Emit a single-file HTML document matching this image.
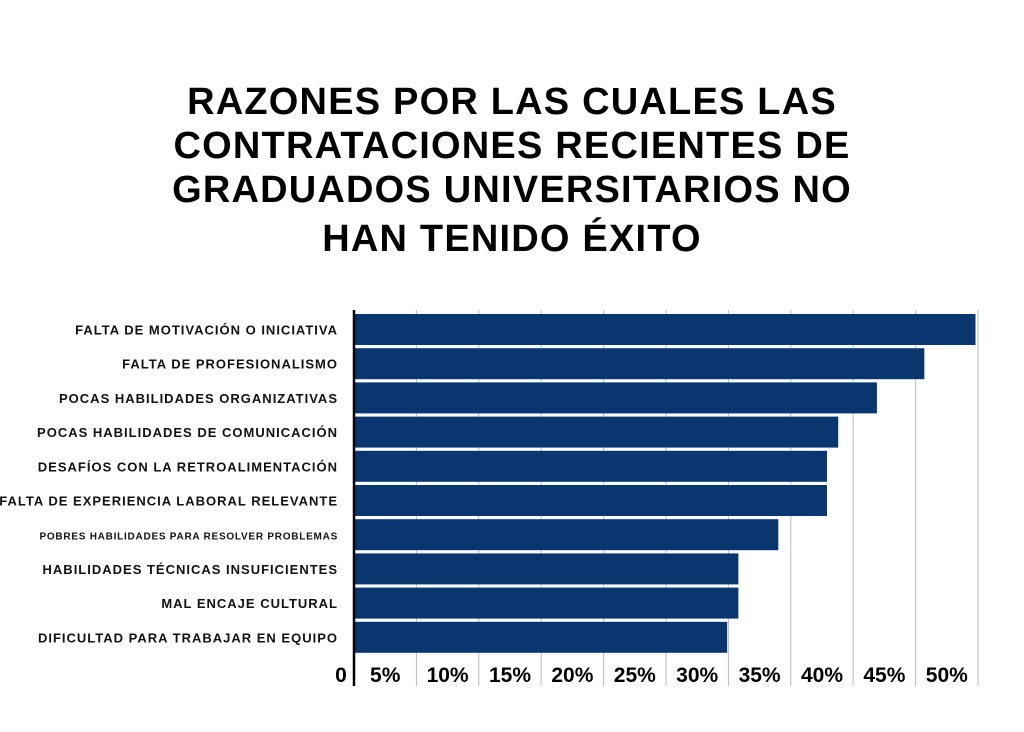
<!DOCTYPE html>
<html><head><meta charset="utf-8"><style>
body{margin:0;background:#fff;}
svg{display:block;font-family:"Liberation Sans",sans-serif;}
</style></head><body>
<svg id="chart" width="1024" height="732" viewBox="0 0 1024 732" xmlns="http://www.w3.org/2000/svg">
<rect width="1024" height="732" fill="#fff"/>
<g font-weight="bold" font-size="38" letter-spacing="1.2" text-anchor="middle" fill="#000">
<text x="512" y="114">RAZONES POR LAS CUALES LAS</text>
<text x="512" y="158">CONTRATACIONES RECIENTES DE</text>
<text x="512" y="202">GRADUADOS UNIVERSITARIOS NO</text>
<text x="512" y="251">HAN TENIDO ÉXITO</text>
</g>
<g id="grid"></g>
<g id="bars"></g>
<g id="cats"></g>
<g id="ticks"></g>
<line x1="354" y1="310" x2="354" y2="686" stroke="#000" stroke-width="2.5"/>
</svg>
<script>
const categories = ["FALTA DE MOTIVACIÓN O INICIATIVA","FALTA DE PROFESIONALISMO","POCAS HABILIDADES ORGANIZATIVAS","POCAS HABILIDADES DE COMUNICACIÓN","DESAFÍOS CON LA RETROALIMENTACIÓN","FALTA DE EXPERIENCIA LABORAL RELEVANTE","POBRES HABILIDADES PARA RESOLVER PROBLEMAS","HABILIDADES TÉCNICAS INSUFICIENTES","MAL ENCAJE CULTURAL","DIFICULTAD PARA TRABAJAR EN EQUIPO"];
const values = [49.8,45.7,41.9,38.8,37.9,37.9,34,30.8,30.8,29.9];
const tickValues = [0,5,10,15,20,25,30,35,40,45,50];
const tickLabels = ["0","5%","10%","15%","20%","25%","30%","35%","40%","45%","50%"];
const NS="http://www.w3.org/2000/svg";
const x0=354, pxPer=12.48, top0=314, pitch=34.2, bh=31;
const xs=v=>x0+v*pxPer;
const ys=i=>top0+i*pitch;
function mk(t,a){const e=document.createElementNS(NS,t);for(const k in a)e.setAttribute(k,a[k]);return e;}
const grid=document.getElementById('grid'),bars=document.getElementById('bars'),cats=document.getElementById('cats'),ticks=document.getElementById('ticks');
tickValues.forEach((v,i)=>{
  if(i>0){const l=mk('line',{x1:xs(v),x2:xs(v),y1:310,y2:686,stroke:'#bbb','stroke-width':1});
  
  
  grid.appendChild(l);}
  const cx = i===0 ? x0-13 : (xs(tickValues[i-1])+xs(v))/2;
  const t=mk('text',{x:cx,y:682,'text-anchor':'middle','font-size':21,'font-weight':'bold',fill:'#000'});
  t.textContent=tickLabels[i];
  
  
  ticks.appendChild(t);
});
values.forEach((v,i)=>{
  const r=mk('rect',{x:x0,y:ys(i),width:xs(v)-x0,height:bh,fill:'#0a3670'});
  
  
  bars.appendChild(r);
  const small=categories[i].length>38;
  const t=mk('text',{x:338,y:ys(i)+bh/2+5,'text-anchor':'end','font-size':small?10:13,'letter-spacing':small?0.75:1,'font-weight':'bold',fill:'#111'});
  t.textContent=categories[i];
  
  
  cats.appendChild(t);
});
</script>
</body></html>
